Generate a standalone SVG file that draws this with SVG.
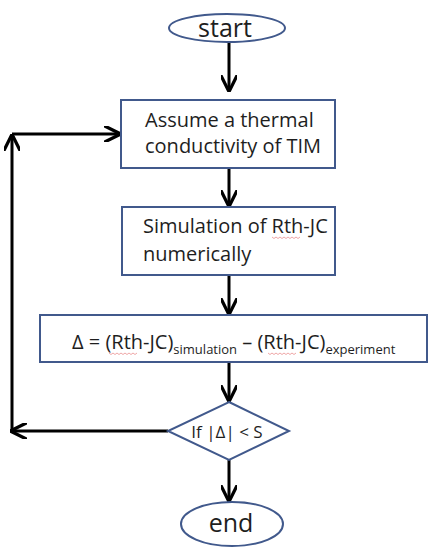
<svg xmlns="http://www.w3.org/2000/svg" width="432" height="550" viewBox="0 0 432 550">
<defs>
<marker id="ah" viewBox="0 0 10 10" refX="9" refY="5" markerWidth="5.5" markerHeight="5.5" orient="auto" markerUnits="strokeWidth">
<path d="M0,0 L10,5 L0,10" fill="none" stroke="#000" stroke-width="2"/>
</marker>
</defs>
<style>
.shape{fill:#fff;stroke:#41598c;stroke-width:2}
.t{font-family:"Open Sans","Liberation Sans",sans-serif;fill:#1e1e1e}
.c{fill:none;stroke:#000;stroke-width:3}
.sq{fill:none;stroke:#e06060;stroke-width:0.8;opacity:0.7}
</style>
<rect width="432" height="550" fill="#fff"/>
<g id="connectors">
<path class="c" d="M229,43 V90" marker-end="url(#ah)"/>
<path class="c" d="M229,168 V205" marker-end="url(#ah)"/>
<path class="c" d="M229,275 V313" marker-end="url(#ah)"/>
<path class="c" d="M229,362 V400" marker-end="url(#ah)"/>
<path class="c" d="M229,460 V500" marker-end="url(#ah)"/>
<path class="c" d="M168,431 H12" marker-end="url(#ah)"/>
<path class="c" d="M12,431 V136" marker-end="url(#ah)"/>
<path class="c" d="M12,134 H119" marker-end="url(#ah)"/>
</g>
<g id="start">
<ellipse class="shape" cx="227" cy="28" rx="58" ry="14"/>
<text class="t" x="225" y="37" font-size="25" text-anchor="middle">start</text>
</g>
<g id="assume">
<rect class="shape" x="121" y="100" width="214" height="68"/>
<text class="t" x="145" y="127" font-size="20">Assume a thermal</text>
<text class="t" x="145" y="153" font-size="20">conductivity of TIM</text>
</g>
<g id="simulation">
<rect class="shape" x="122" y="207" width="213" height="68"/>
<text class="t" x="143" y="233" font-size="20">Simulation of Rth-JC</text>
<text class="t" x="143" y="261" font-size="20">numerically</text>
<path class="sq" d="M272,237 l2,1.5 l2,-1.5 l2,1.5 l2,-1.5 l2,1.5 l2,-1.5 l2,1.5 l2,-1.5 l2,1.5 l2,-1.5 l2,1.5 l2,-1.5 l2,1.5 l2,-1.5"/>
</g>
<g id="delta">
<rect class="shape" x="40" y="315" width="387" height="47"/>
<text class="t" x="72" y="349" font-size="20">Δ = (Rth-JC)<tspan font-size="13" dy="5">simulation</tspan><tspan dy="-5"> – (Rth-JC)</tspan><tspan font-size="13" dy="5">experiment</tspan></text>
<path class="sq" d="M109,353 l2,1.5 l2,-1.5 l2,1.5 l2,-1.5 l2,1.5 l2,-1.5 l2,1.5 l2,-1.5 l2,1.5 l2,-1.5 l2,1.5 l2,-1.5 l2,1.5 l2,-1.5"/>
<path class="sq" d="M268,353 l2,1.5 l2,-1.5 l2,1.5 l2,-1.5 l2,1.5 l2,-1.5 l2,1.5 l2,-1.5 l2,1.5 l2,-1.5 l2,1.5 l2,-1.5 l2,1.5 l2,-1.5"/>
</g>
<g id="decision">
<path class="shape" d="M229,402 L289,431 L229,460 L168,431 Z"/>
<text class="t" x="227" y="438" font-size="17" text-anchor="middle">If |Δ| &lt; S</text>
</g>
<g id="end">
<ellipse class="shape" cx="232" cy="524" rx="51" ry="22"/>
<text class="t" x="231" y="532" font-size="25" text-anchor="middle">end</text>
</g>
</svg>
